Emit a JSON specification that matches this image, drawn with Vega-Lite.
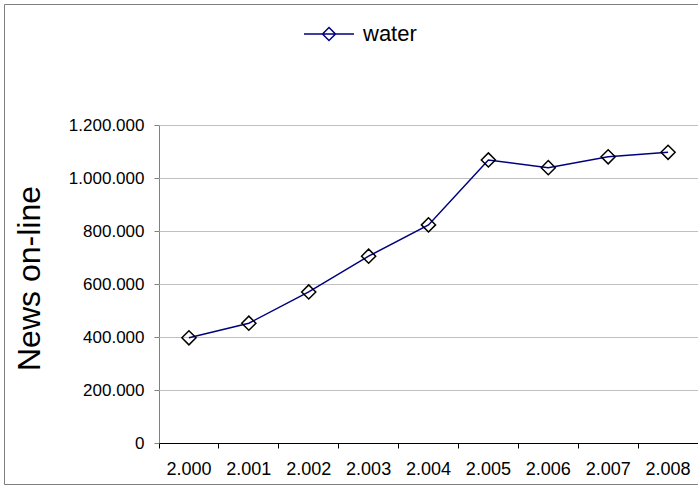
{
  "$schema": "https://vega.github.io/schema/vega-lite/v6.json",
  "width": 694,
  "height": 480,
  "autosize": "none",
  "padding": {"left": 4, "top": 4, "right": 0, "bottom": 2},
  "background": "white",
  "config": {
    "view": {"stroke": "#7f7f7f", "strokeWidth": 1},
    "font": "Liberation Sans",
    "locale": {"number": {"decimal": ",", "thousands": ".", "grouping": [3], "currency": ["", " €"]}},
    "axis": {"labelFont": "Liberation Sans", "labelColor": "#000000", "titleFont": "Liberation Sans"}
  },
  "data": {
    "values": [
      {"year": "2.000", "news": 397000},
      {"year": "2.001", "news": 452000},
      {"year": "2.002", "news": 570000},
      {"year": "2.003", "news": 705000},
      {"year": "2.004", "news": 823000},
      {"year": "2.005", "news": 1068000},
      {"year": "2.006", "news": 1039000},
      {"year": "2.007", "news": 1080000},
      {"year": "2.008", "news": 1097000}
    ]
  },
  "layer": [
    {
      "mark": {"type": "line", "strokeWidth": 1.5},
      "encoding": {
        "x": {
          "field": "year", "type": "ordinal",
          "scale": {"type": "band", "paddingInner": 0, "paddingOuter": 0, "range": [155, 694]},
          "axis": {"orient": "bottom", "offset": -41, "domain": false, "grid": false, "bandPosition": 0, "tickSize": 5, "tickColor": "#000000", "labelOffset": 0, "labelPadding": 12, "labelFontSize": 18, "labelAngle": 0, "title": null}
        },
        "y": {
          "field": "news", "type": "quantitative",
          "scale": {"domain": [-154717, 1656604], "nice": false, "zero": false},
          "axis": {"orient": "left", "offset": -155, "values": [0, 200000, 400000, 600000, 800000, 1000000, 1200000], "format": ",.0f", "domain": false, "grid": false, "tickSize": 5, "tickColor": "#808080", "labelFontSize": 17, "labelPadding": 10, "title": "News on-line", "titleFontSize": 32, "titleFontWeight": "normal", "titleColor": "#000000", "titlePadding": 22, "titleY": 274}
        },
        "color": {
          "datum": "water", "type": "nominal",
          "scale": {"range": ["#000080"]},
          "legend": {"orient": "none", "legendX": 299, "legendY": 4, "title": null, "symbolType": "M-1,0H1M0,-0.26L0.26,0L0,0.26L-0.26,0Z", "symbolSize": 2500, "symbolStrokeWidth": 1.5, "symbolFillColor": "transparent", "labelFontSize": 22, "labelFont": "Liberation Sans", "labelColor": "#000000", "labelOffset": 8, "padding": 0}
        }
      }
    },
    {
      "mark": {"type": "point", "shape": "diamond", "size": 200, "filled": false, "stroke": "#000000", "strokeWidth": 1.5, "opacity": 1},
      "encoding": {
        "x": {
          "field": "year", "type": "ordinal",
          "axis": {"orient": "top", "offset": -121, "values": ["2.000"], "bandPosition": 0, "tickSize": -318, "tickColor": "#808080", "labels": false, "domain": false, "grid": false, "title": null}
        },
        "y": {
          "field": "news", "type": "quantitative",
          "axis": {"orient": "right", "offset": 0, "values": [0, 200000, 400000, 600000, 800000, 1000000, 1200000], "tickSize": -539, "tickColor": {"condition": {"test": "datum.value === 0", "value": "#000000"}, "value": "#c0c0c0"}, "labels": false, "domain": false, "grid": false, "title": null}
        }
      }
    }
  ],
  "resolve": {"axis": {"x": "independent", "y": "independent"}}
}
